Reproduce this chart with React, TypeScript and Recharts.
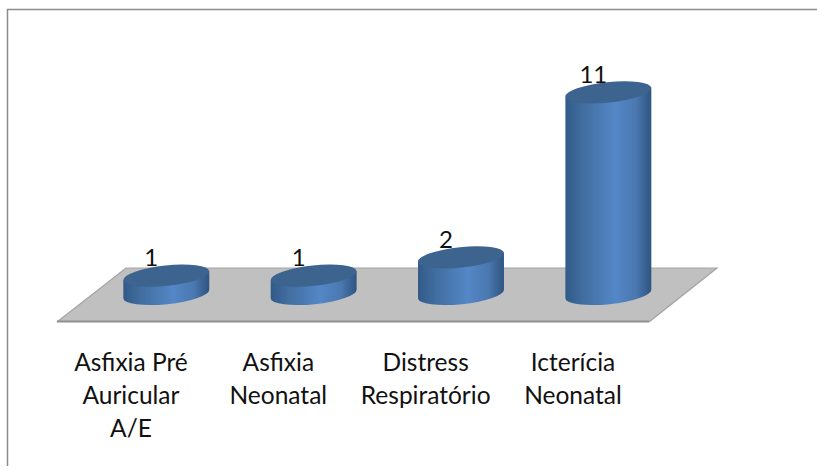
import { BarChart, Bar, XAxis, YAxis, LabelList } from 'recharts'

const categories = ['Asfixia Pré Auricular A/E', 'Asfixia Neonatal', 'Distress Respiratório', 'Icterícia Neonatal']
const values = [1, 1, 2, 11]
const tickLines: Record<string, string[]> = {
  'Asfixia Pré Auricular A/E': ['Asfixia Pré', 'Auricular', 'A/E'],
  'Asfixia Neonatal': ['Asfixia', 'Neonatal'],
  'Distress Respiratório': ['Distress', 'Respiratório'],
  'Icterícia Neonatal': ['Icterícia', 'Neonatal'],
}

const data = categories.map((name, i) => ({ name, value: values[i] }))

const FONT = 'Lato, "Open Sans", sans-serif'

// half height of the tilted ellipse axes
const RX = 43.2
const RY = 10.2
const TILT = -6

function Cylinder(props: any) {
  const { x, y, width, height } = props
  const cx = x + width / 2
  const dx = RX * Math.cos((TILT * Math.PI) / 180)
  const dy = RX * Math.sin((TILT * Math.PI) / 180)
  const base = y + height
  const body = `M ${cx - dx} ${y - dy} L ${cx - dx} ${base - dy} A ${RX} ${RY} ${TILT} 0 0 ${cx + dx} ${base + dy} L ${cx + dx} ${y + dy} Z`
  return (
    <g>
      <path d={body} fill="url(#cylinderSide)" />
      <ellipse cx={cx} cy={y} rx={RX} ry={RY} fill="#3c648f" transform={`rotate(${TILT} ${cx} ${y})`} />
    </g>
  )
}

function CategoryTick(props: any) {
  const { x, y, payload } = props
  const lines = tickLines[payload.value] || [payload.value]
  return (
    <text x={x - 35} y={y} textAnchor="middle" fontFamily={FONT} fontSize={24.5} fill="#111">
      {lines.map((line, i) => (
        <tspan key={line} x={x - 35} y={y + 69 + i * 33}>
          {line}
        </tspan>
      ))}
    </text>
  )
}

function ValueLabel(props: any) {
  const { x, y, width, value } = props
  return (
    <text x={x + width / 2 - 15} y={y - 9.5} textAnchor="middle" fontFamily={FONT} fontSize={24} fill="#111">
      {value}
    </text>
  )
}

export default function App() {
  return (
    <div style={{ position: 'absolute', left: 0, top: 0, width: 817, height: 470, background: '#fff' }}>
      <svg width={817} height={470} style={{ position: 'absolute', left: 0, top: 0 }}>
        <path d="M 817 9.5 L 7.5 9.5 L 7.5 466" fill="none" stroke="#8c8c8c" strokeWidth={1.5} />
        <polygon points="57,322 649,322 717,268 126,268" fill="#c0c0c0" />
        <path d="M 57 322 L 126 268 L 717 268 L 649 322" fill="none" stroke="#a3a3a3" strokeWidth={1.2} />
        <path d="M 57 321.5 L 649 321.5" fill="none" stroke="#8f8f8f" strokeWidth={2} />
      </svg>
      <div style={{ position: 'absolute', left: 0, top: 0 }}>
        <BarChart
          width={817}
          height={470}
          data={data}
          margin={{ top: 74, right: 135.3, bottom: 76, left: 92.3 }}
        >
          <defs>
            <linearGradient id="cylinderSide" x1="0" y1="0" x2="1" y2="0">
              <stop offset="0%" stopColor="#315a88" />
              <stop offset="20%" stopColor="#416d9f" />
              <stop offset="58%" stopColor="#5487c7" />
              <stop offset="82%" stopColor="#4a78b0" />
              <stop offset="100%" stopColor="#2f5480" />
            </linearGradient>
          </defs>
          <XAxis dataKey="name" axisLine={false} tickLine={false} height={100} interval={0} tick={<CategoryTick />} />
          <YAxis hide domain={[0, 12]} />
          <Bar dataKey="value" barSize={86} isAnimationActive={false} shape={<Cylinder />}>
            <LabelList dataKey="value" content={<ValueLabel />} />
          </Bar>
        </BarChart>
      </div>
    </div>
  )
}
